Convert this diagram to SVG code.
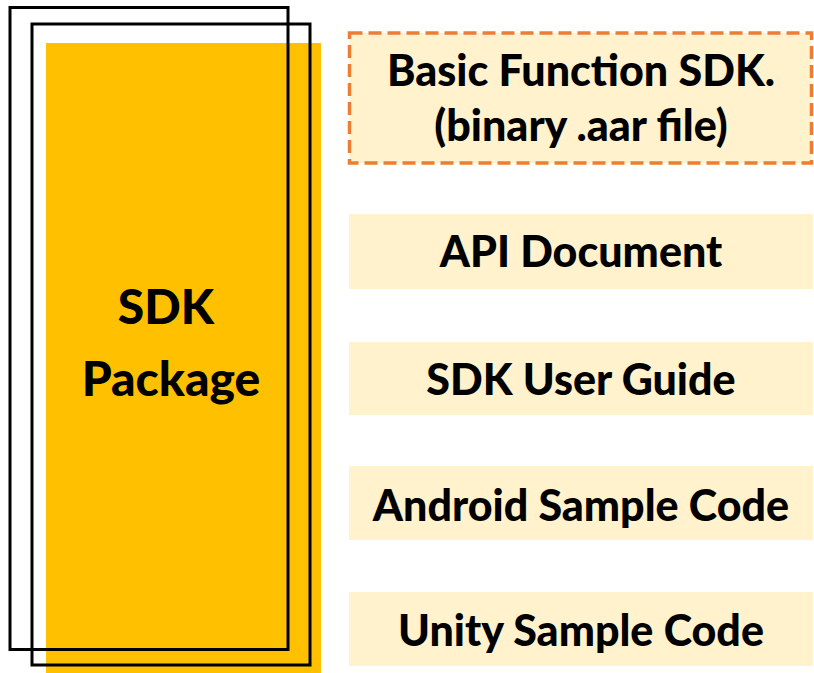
<svg xmlns="http://www.w3.org/2000/svg" width="814" height="673" viewBox="0 0 814 673">
<style>
.t{font-family:Lato,"Open Sans","Liberation Sans",sans-serif;font-weight:900;font-size:43px;fill:#000;text-anchor:middle}
.big{font-size:48px}
.item{fill:#FFF2CC}
.frame{fill:none;stroke:#000;stroke-width:3}
</style>
<rect width="814" height="673" fill="#fff"/>
<g id="sdk-package">
<rect x="46" y="43" width="275" height="630" fill="#FFC000"/>
<rect class="frame" x="10" y="7.5" width="278" height="642"/>
<rect class="frame" x="32" y="24" width="278" height="641"/>
<text class="t big" x="166" y="324">SDK</text>
<text class="t big" x="171" y="396">Package</text>
</g>
<g id="basic-sdk">
<rect x="349.5" y="33" width="462" height="130" fill="#FFF2CC" stroke="#ED7D31" stroke-width="3.5" stroke-dasharray="13,6"/>
<text class="t" x="581" y="86">Basic Function SDK.</text>
<text class="t" x="581" y="141">(binary .aar file)</text>
</g>
<g id="api-doc">
<rect class="item" x="349" y="214" width="464" height="75"/>
<text class="t" x="581" y="267">API Document</text>
</g>
<g id="user-guide">
<rect class="item" x="349" y="342" width="464" height="73"/>
<text class="t" x="581" y="395">SDK User Guide</text>
</g>
<g id="android-sample">
<rect class="item" x="349" y="466" width="464" height="74"/>
<text class="t" x="581" y="521">Android Sample Code</text>
</g>
<g id="unity-sample">
<rect class="item" x="349" y="592" width="464" height="74"/>
<text class="t" x="581" y="646">Unity Sample Code</text>
</g>
<g id="connectors"/>
</svg>
